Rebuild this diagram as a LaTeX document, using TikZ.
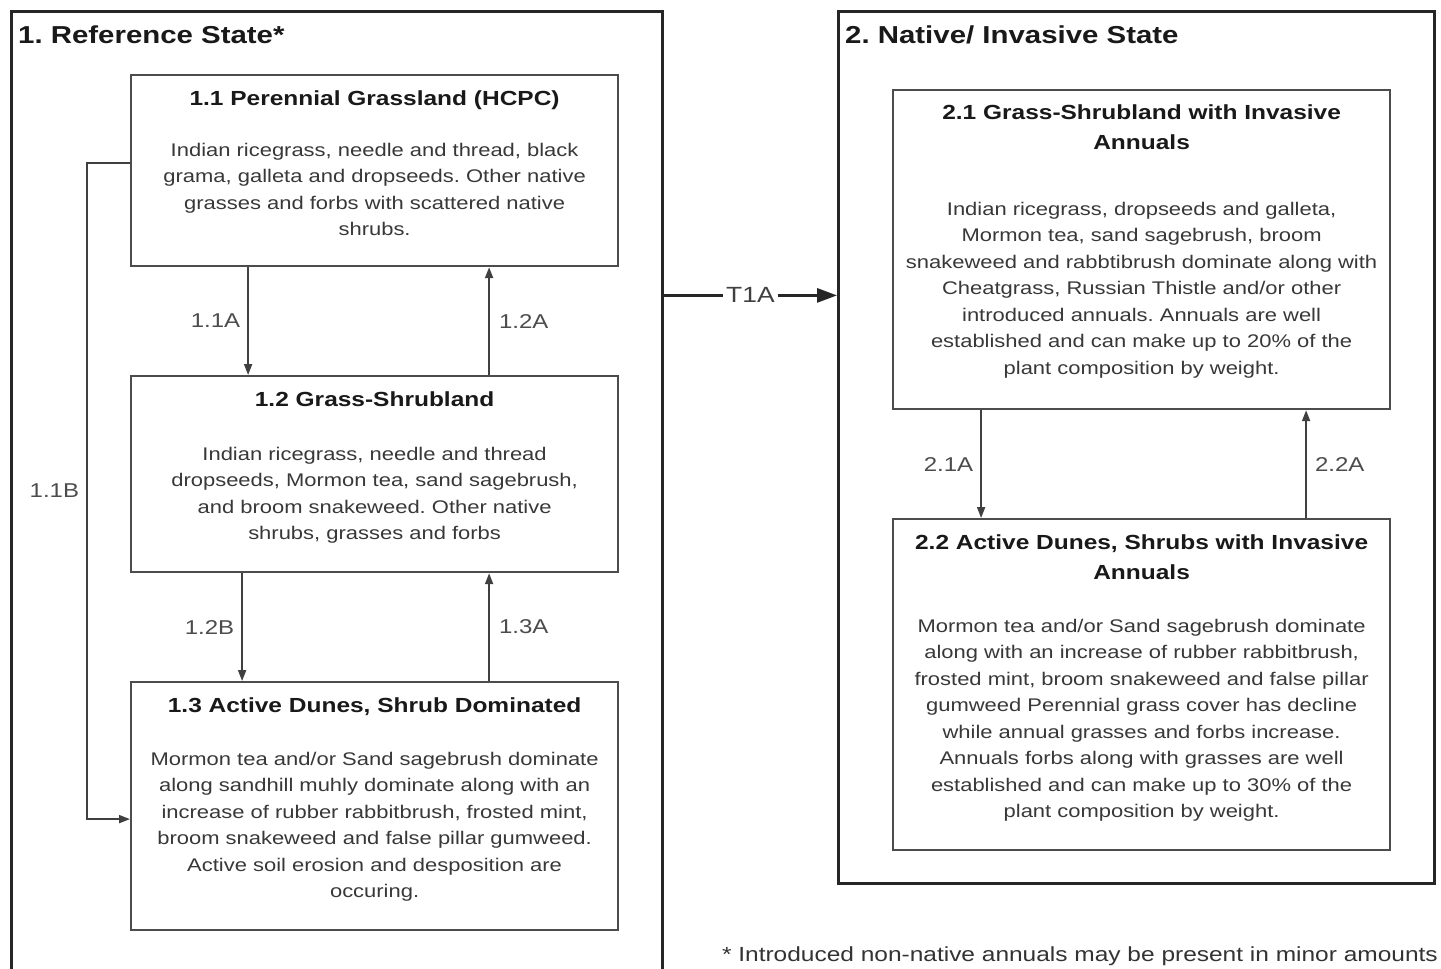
\documentclass[tikz,border=0pt]{standalone}
\usepackage{fontspec}
\setmainfont[FakeStretch=1.2]{Liberation Sans}
\usetikzlibrary{arrows.meta,positioning}
\frenchspacing

\tikzset{
  statebox/.style={draw=black!85, line width=2.8pt, inner sep=0pt, anchor=north west},
  phasebox/.style={draw=black!70, line width=2.2pt, inner sep=0pt, anchor=north west},
  statename/.style={font=\fontsize{24.5}{28}\selectfont\bfseries, text=black!90, inner sep=0pt, anchor=west},
  boxtitle/.style={font=\fontsize{20.4}{30}\selectfont\bfseries, text=black!90, align=center, inner sep=0pt},
  boxbody/.style={font=\fontsize{18.3}{26.5}\selectfont, text=black!78, align=center, inner sep=0pt},
  trans/.style={draw=black!75, line width=1.9pt, -{Triangle[length=11pt,width=8pt]}},
  translab/.style={font=\fontsize{20}{24}\selectfont, text=black!70, inner sep=0pt},
}

\begin{document}
\begin{tikzpicture}[x=1pt,y=-1pt]
\useasboundingbox[fill=white] (0,0) rectangle (1441,969);
% states
\node[statebox, minimum width=651pt, minimum height=1000pt] (ref) at (10,10) {};
\node[statebox, minimum width=596pt, minimum height=872pt] (nat) at (837,10) {};
\node[statename] (refname) at (18,35) {1. Reference State*};
\node[statename] (natname) at (845,35) {2. Native/ Invasive State};

% reference state phases
\node[phasebox, minimum width=487pt, minimum height=191pt] (s11) at (130,74) {};
\node[boxtitle, below=17pt of s11.north] (t11) {1.1 Perennial Grassland (HCPC)};
\node[boxbody, below=69pt of s11.north] (b11) {Indian ricegrass, needle and thread, black\\grama, galleta and dropseeds. Other native\\grasses and forbs with scattered native\\shrubs.};

\node[phasebox, minimum width=487pt, minimum height=196pt] (s12) at (130,375) {};
\node[boxtitle, below=17pt of s12.north] (t12) {1.2 Grass-Shrubland};
\node[boxbody, below=72pt of s12.north] (b12) {Indian ricegrass, needle and thread\\dropseeds, Mormon tea, sand sagebrush,\\and broom snakeweed. Other native\\shrubs, grasses and forbs};

\node[phasebox, minimum width=487pt, minimum height=248pt] (s13) at (130,681) {};
\node[boxtitle, below=17pt of s13.north] (t13) {1.3 Active Dunes, Shrub Dominated};
\node[boxbody, below=71pt of s13.north] (b13) {Mormon tea and/or Sand sagebrush dominate\\along sandhill muhly dominate along with an\\increase of rubber rabbitbrush, frosted mint,\\broom snakeweed and false pillar gumweed.\\Active soil erosion and desposition are\\occuring.};

% native/invasive state phases
\node[phasebox, minimum width=497pt, minimum height=319pt] (s21) at (892,89) {};
\node[boxtitle, below=16pt of s21.north] (t21) {2.1 Grass-Shrubland with Invasive\\Annuals};
\node[boxbody, below=113pt of s21.north] (b21) {Indian ricegrass, dropseeds and galleta,\\Mormon tea, sand sagebrush, broom\\snakeweed and rabbtibrush dominate along with\\Cheatgrass, Russian Thistle and/or other\\introduced annuals. Annuals are well\\established and can make up to 20\% of the\\plant composition by weight.};

\node[phasebox, minimum width=497pt, minimum height=331pt] (s22) at (892,518) {};
\node[boxtitle, below=17pt of s22.north] (t22) {2.2 Active Dunes, Shrubs with Invasive\\Annuals};
\node[boxbody, below=101pt of s22.north] (b22) {Mormon tea and/or Sand sagebrush dominate\\along with an increase of rubber rabbitbrush,\\frosted mint, broom snakeweed and false pillar\\gumweed Perennial grass cover has decline\\while annual grasses and forbs increase.\\Annuals forbs along with grasses are well\\established and can make up to 30\% of the\\plant composition by weight.};

% transitions and pathways
\draw[trans] ([xshift=-126.5pt]s11.south) -- ([xshift=-126.5pt]s12.north) node[translab, midway, left=7pt] {1.1A};
\draw[trans] ([xshift=114.5pt]s12.north) -- ([xshift=114.5pt]s11.south) node[translab, midway, right=9pt] {1.2A};
\draw[trans] ([xshift=-132.5pt]s12.south) -- ([xshift=-132.5pt]s13.north) node[translab, midway, left=7pt] {1.2B};
\draw[trans] ([xshift=114.5pt]s13.north) -- ([xshift=114.5pt]s12.south) node[translab, midway, right=9pt] {1.3A};
\draw[trans] ([yshift=7.5pt]s11.west) -- ++(-43,0) |- ([yshift=-13pt]s13.west) node[translab, pos=0.25, left=7pt] {1.1B};
\draw[trans] ([xshift=-160.5pt]s21.south) -- ([xshift=-160.5pt]s22.north) node[translab, midway, left=7pt] {2.1A};
\draw[trans] ([xshift=164.5pt]s22.north) -- ([xshift=164.5pt]s21.south) node[translab, midway, right=8pt] {2.2A};
\draw[draw=black!85, line width=2.8pt, -{Triangle[length=20pt,width=14pt]}] ([yshift=216pt]ref.east) -- ([yshift=216pt]ref.east -| nat.west) node[font=\fontsize{22}{26}\selectfont, text=black!75, midway, fill=white, inner xsep=3pt, inner ysep=1pt] (t1a) {T1A};

% footnote
\node[font=\fontsize{20.4}{24}\selectfont, text=black!80, anchor=east, inner sep=0pt] (note) at (1438,956) {* Introduced non-native annuals may be present in minor amounts};
\end{tikzpicture}
\end{document}
